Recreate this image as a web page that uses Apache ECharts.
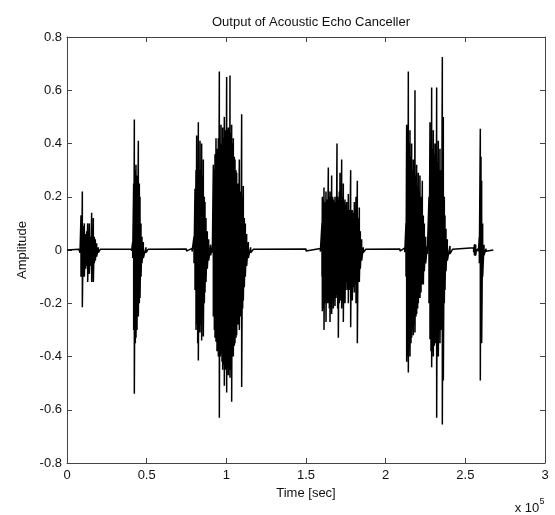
<!DOCTYPE html>
<html>
<head>
<meta charset="utf-8">
<script src="https://cdn.jsdelivr.net/npm/echarts@6/dist/echarts.min.js"></script>
<style>
html,body{margin:0;padding:0;background:#fff;}
#chart{width:555px;height:515px;}
</style>
</head>
<body>
<div id="chart"></div>
<script>
// Axis ticks
const xTicks = [0, 50000, 100000, 150000, 200000, 250000, 300000];
const yTicks = [-0.8, -0.6, -0.4, -0.2, 0, 0.2, 0.4, 0.6, 0.8];

// Waveform envelope: [sample index, positive peak, negative peak]
const lead = [[0, 0, 0], [7500, 0.003, -0.003]];
const burst1 = [
  [8159, 0.01, -0.01], [8786, 0.13, -0.10], [9205, 0.08, -0.08], [9623, 0.22, -0.215],
  [10250, 0.09, -0.10], [10878, 0.10, -0.10], [11715, 0.06, -0.07], [12343, 0.07, -0.06],
  [12970, 0.10, -0.12], [13598, 0.05, -0.05], [14016, 0.10, -0.09], [14853, 0.05, -0.06],
  [15481, 0.14, -0.12], [16109, 0.08, -0.08], [16527, 0.12, -0.12], [17154, 0.05, -0.05],
  [17782, 0.04, -0.04], [18619, 0.025, -0.025], [19665, 0.01, -0.01], [21000, 0.003, -0.003]
];
const burst2 = [
  [40500, 0.004, -0.004], [41212, 0.03, -0.03], [41840, 0.25, -0.30], [42258, 0.49, -0.54],
  [42885, 0.30, -0.35], [43304, 0.32, -0.33], [43932, 0.28, -0.30], [44768, 0.41, -0.25],
  [45396, 0.25, -0.20], [45815, 0.20, -0.18], [46442, 0.10, -0.10], [47070, 0.05, -0.05],
  [47907, 0.03, -0.03], [49580, 0.01, -0.01], [51000, 0.003, -0.003]
];
const burst3 = [
  [75000, 0.004, -0.004], [78500, 0.006, -0.006], [79705, 0.05, -0.05], [80333, 0.23, -0.15],
  [80960, 0.30, -0.30], [81379, 0.43, -0.28], [82006, 0.32, -0.35], [82425, 0.48, -0.415],
  [83052, 0.30, -0.30], [83471, 0.41, -0.31], [84098, 0.30, -0.28], [84517, 0.40, -0.34],
  [85145, 0.28, -0.25], [85563, 0.34, -0.325], [86191, 0.20, -0.20], [86609, 0.18, -0.16],
  [87236, 0.12, -0.12], [88073, 0.07, -0.07], [88910, 0.04, -0.04], [90165, 0.02, -0.02],
  [91211, 0.01, -0.01], [91839, 0.32, -0.25], [92467, 0.30, -0.30], [92885, 0.36, -0.33],
  [93512, 0.42, -0.345], [94140, 0.38, -0.38], [94977, 0.42, -0.40], [95604, 0.67, -0.63],
  [96232, 0.40, -0.40], [96650, 0.47, -0.39], [97278, 0.40, -0.42], [97696, 0.46, -0.45],
  [98324, 0.42, -0.43], [98742, 0.50, -0.51], [99370, 0.45, -0.45], [100207, 0.65, -0.535],
  [100834, 0.45, -0.44], [101253, 0.46, -0.47], [101880, 0.45, -0.45], [102299, 0.655, -0.48],
  [102926, 0.44, -0.45], [103345, 0.47, -0.57], [103972, 0.40, -0.40], [104391, 0.42, -0.40],
  [105019, 0.35, -0.36], [105437, 0.34, -0.35], [106064, 0.30, -0.33], [106483, 0.29, -0.32],
  [107320, 0.25, -0.28], [108157, 0.34, -0.30], [108993, 0.22, -0.25], [109621, 0.51, -0.515],
  [110249, 0.20, -0.22], [110667, 0.24, -0.19], [111295, 0.12, -0.14], [111922, 0.10, -0.10],
  [112759, 0.06, -0.06], [113805, 0.03, -0.03], [115269, 0.01, -0.01], [117000, 0.003, -0.003]
];
const burst4 = [
  [150000, 0.004, -0.004], [159000, 0.006, -0.006], [160038, 0.10, -0.10], [160247, 0.20, -0.23],
  [160875, 0.19, -0.22], [161293, 0.235, -0.30], [161921, 0.18, -0.20], [162548, 0.22, -0.27],
  [163176, 0.19, -0.20], [164013, 0.31, -0.20], [164640, 0.20, -0.22], [165059, 0.22, -0.27],
  [165686, 0.20, -0.20], [166105, 0.28, -0.24], [166733, 0.20, -0.19], [167151, 0.19, -0.22],
  [167779, 0.18, -0.18], [168197, 0.20, -0.21], [168825, 0.18, -0.18], [169452, 0.40, -0.17],
  [169871, 0.20, -0.22], [170289, 0.19, -0.33], [170917, 0.22, -0.20], [171335, 0.29, -0.19],
  [171963, 0.20, -0.19], [172381, 0.34, -0.22], [173009, 0.20, -0.20], [173427, 0.25, -0.27],
  [174055, 0.18, -0.18], [174473, 0.19, -0.20], [175101, 0.17, -0.15], [175519, 0.18, -0.12],
  [176147, 0.15, -0.15], [176565, 0.21, -0.20], [177193, 0.15, -0.15], [178030, 0.30, -0.29],
  [178657, 0.15, -0.15], [179076, 0.15, -0.19], [179703, 0.14, -0.14], [180331, 0.18, -0.16],
  [180749, 0.13, -0.13], [181377, 0.20, -0.20], [182214, 0.26, -0.35], [182841, 0.12, -0.12],
  [183469, 0.16, -0.12], [184096, 0.07, -0.07], [184933, 0.04, -0.04], [185979, 0.01, -0.01],
  [187500, 0.003, -0.003]
];
const burst5 = [
  [209000, 0.004, -0.004], [212000, 0.008, -0.008], [212756, 0.10, -0.10], [213174, 0.47, -0.42],
  [213802, 0.40, -0.40], [214221, 0.67, -0.46], [214848, 0.40, -0.37], [215267, 0.45, -0.40],
  [215894, 0.35, -0.35], [216313, 0.40, -0.33], [216940, 0.30, -0.30], [217359, 0.34, -0.32],
  [217987, 0.30, -0.28], [218405, 0.60, -0.31], [219032, 0.28, -0.25], [219451, 0.32, -0.24],
  [220079, 0.24, -0.22], [220497, 0.29, -0.20], [221125, 0.22, -0.18], [221543, 0.28, -0.18],
  [222170, 0.20, -0.16], [223007, 0.26, -0.13], [223635, 0.13, -0.13], [224263, 0.10, -0.08],
  [225100, 0.05, -0.05], [226146, 0.015, -0.015], [227191, 0.20, -0.20], [227819, 0.48, -0.335],
  [228446, 0.40, -0.38], [228865, 0.61, -0.44], [229493, 0.38, -0.38], [229911, 0.45, -0.40],
  [230539, 0.36, -0.36], [230957, 0.40, -0.35], [231584, 0.35, -0.35], [232003, 0.61, -0.63],
  [232631, 0.33, -0.34], [233049, 0.41, -0.40], [233677, 0.30, -0.30], [234095, 0.38, -0.35],
  [234932, 0.30, -0.30], [235560, 0.725, -0.655], [236187, 0.50, -0.49], [236815, 0.20, -0.20],
  [237233, 0.13, -0.15], [237861, 0.08, -0.08], [238698, 0.04, -0.04], [240371, 0.015, -0.015],
  [242000, 0.003, -0.003]
];
const burst6 = [
  [255200, 0.008, -0.008], [255700, 0.02, -0.02], [256061, 0.022, -0.022], [256500, 0.02, -0.02],
  [257000, 0.004, -0.004], [258200, 0.006, -0.006], [258778, 0.05, -0.05], [259406, 0.455, -0.49],
  [259824, 0.35, -0.35], [260243, 0.26, -0.35], [260870, 0.10, -0.10], [261707, 0.02, -0.02],
  [263000, 0.005, -0.005], [267565, 0, 0]
];

const envelope = [].concat(lead, burst1, burst2, burst3, burst4, burst5, burst6);
const waveData = [];
envelope.forEach(function (p) {
  waveData.push([p[0], p[1]]);
  waveData.push([p[0], p[2]]);
});

const FONT = 'Liberation Sans';
const axisColor = '#444';

function yFmt(v) {
  if (Math.abs(v) < 1e-9) return '0';
  return (Math.round(v * 10) / 10).toFixed(1);
}

const chart = echarts.init(document.getElementById('chart'), null, {renderer: 'canvas'});
chart.setOption({
  animation: false,
  backgroundColor: '#fff',
  title: {
    text: 'Output of Acoustic Echo Canceller',
    left: 306, top: 11, textAlign: 'center',
    textStyle: {fontFamily: FONT, fontSize: 13, fontWeight: 'normal', color: '#111'}
  },
  grid: {left: 67, right: 10, top: 37, bottom: 52, containLabel: false},
  xAxis: [{
    type: 'value', min: xTicks[0], max: xTicks[xTicks.length - 1], interval: 50000,
    position: 'bottom',
    axisLine: {show: true, onZero: false, lineStyle: {color: axisColor, width: 1}},
    axisTick: {show: true, inside: true, length: 5, lineStyle: {color: axisColor}},
    axisLabel: {margin: 6, fontFamily: FONT, fontSize: 13, color: '#111',
      formatter: function (v) { return String(Math.round(v / 1e4) / 10); }},
    splitLine: {show: false}
  }, {
    type: 'value', min: xTicks[0], max: xTicks[xTicks.length - 1], interval: 50000,
    position: 'top',
    axisLine: {show: true, onZero: false, lineStyle: {color: axisColor, width: 1}},
    axisTick: {show: true, inside: true, length: 5, lineStyle: {color: axisColor}},
    axisLabel: {show: false}, splitLine: {show: false}
  }],
  yAxis: [{
    type: 'value', min: yTicks[0], max: yTicks[yTicks.length - 1], interval: 0.2,
    position: 'left',
    axisLine: {show: true, onZero: false, lineStyle: {color: axisColor, width: 1}},
    axisTick: {show: true, inside: true, length: 5, lineStyle: {color: axisColor}},
    axisLabel: {margin: 5, fontFamily: FONT, fontSize: 13, color: '#111', formatter: yFmt},
    splitLine: {show: false}
  }, {
    type: 'value', min: yTicks[0], max: yTicks[yTicks.length - 1], interval: 0.2,
    position: 'right',
    axisLine: {show: true, onZero: false, lineStyle: {color: axisColor, width: 1}},
    axisTick: {show: true, inside: true, length: 5, lineStyle: {color: axisColor}},
    axisLabel: {show: false}, splitLine: {show: false}
  }],
  series: [{
    type: 'line',
    name: 'AEC output',
    xAxisIndex: 0, yAxisIndex: 0,
    data: waveData,
    showSymbol: false,
    symbol: 'none',
    sampling: null,
    lineStyle: {color: '#000', width: 1.5},
    silent: true,
    z: 1
  }],
  graphic: [
    {type: 'text', x: 306, y: 493, style: {text: 'Time [sec]', fontFamily: FONT, fontSize: 13, fill: '#111', textAlign: 'center', textVerticalAlign: 'middle'}},
    {type: 'text', x: 22, y: 250, rotation: Math.PI / 2, style: {text: 'Amplitude', fontFamily: FONT, fontSize: 13, fill: '#111', textAlign: 'center', textVerticalAlign: 'middle'}},
    {type: 'text', x: 527, y: 508, style: {text: 'x 10', fontFamily: FONT, fontSize: 13, fill: '#111', textAlign: 'center', textVerticalAlign: 'middle'}},
    {type: 'text', x: 542, y: 502, style: {text: '5', fontFamily: FONT, fontSize: 9, fill: '#111', textAlign: 'center', textVerticalAlign: 'middle'}}
  ]
});
</script>
</body>
</html>
